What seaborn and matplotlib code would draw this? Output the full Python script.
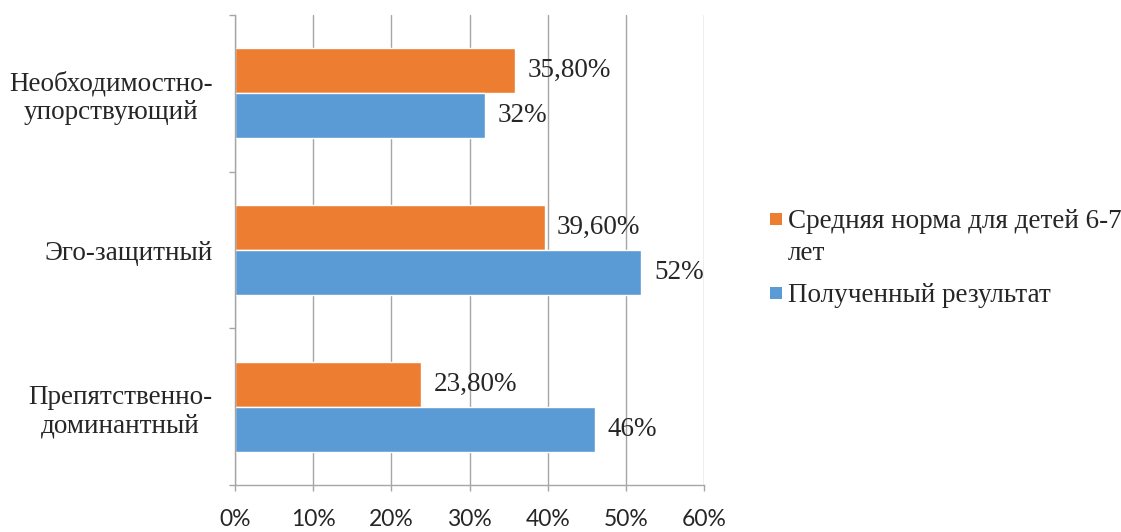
import matplotlib
matplotlib.use('Agg')
import matplotlib.pyplot as plt
import seaborn as sns
import pandas as pd
from matplotlib.patches import Rectangle
from matplotlib.ticker import FixedLocator

categories = ["Необходимостно-\nупорствующий", "Эго-защитный", "Препятственно-\nдоминантный"]
series_names = ["Средняя норма для детей 6-7 лет", "Полученный результат"]
norm_values = [35.8, 39.6, 23.8]
result_values = [32, 52, 46]
norm_labels = ["35,80%", "39,60%", "23,80%"]
result_labels = ["32%", "52%", "46%"]
x_ticks = [0, 10, 20, 30, 40, 50, 60]
x_tick_labels = ["0%", "10%", "20%", "30%", "40%", "50%", "60%"]
legend_lines = [["Средняя норма для детей 6-7", "лет"], ["Полученный результат"]]
colors = ["#ED7D31", "#5B9BD5"]

df = pd.DataFrame({
    "category": categories * 2,
    "series": [series_names[0]] * 3 + [series_names[1]] * 3,
    "value": norm_values + result_values,
})

sns.set_style("white")
SERIF = "Liberation Serif"
FS = 19.5
W, H = 1121, 532
fig = plt.figure(figsize=(W / 100, H / 100), dpi=100)
ax = fig.add_axes([235 / W, 1 - 485 / H, 469 / W, 470 / H])

sns.barplot(data=df, x="value", y="category", hue="series", hue_order=series_names,
            order=categories, palette=colors, orient="h", width=0.574, saturation=1,
            ax=ax, legend=False, errorbar=None)

ax.set_xlim(0, 60)
ax.set_ylim(2.5, -0.5)
ax.set_xlabel("")
ax.set_ylabel("")
ax.set_xticks(x_ticks)
ax.set_xticklabels(x_tick_labels, fontsize=16.5, family="Lato")
ax.set_yticks(range(len(categories)))
ax.set_yticklabels(categories, fontsize=FS, family=SERIF, multialignment="center",
                   linespacing=1.2)
ax.yaxis.set_minor_locator(FixedLocator([-0.5, 0.5, 1.5, 2.5]))

grid_c = "#A6A6A6"
ax.xaxis.grid(True, color=grid_c, lw=1)
ax.set_axisbelow(True)
for s in ["top", "right"]:
    ax.spines[s].set_visible(False)
for s in ["left", "bottom"]:
    ax.spines[s].set_visible(True)
    ax.spines[s].set_color(grid_c)
    ax.spines[s].set_linewidth(1)

ax.tick_params(axis="y", which="major", length=0, pad=16)
ax.tick_params(axis="y", which="minor", length=4.5, color=grid_c, width=1, left=True)
ax.tick_params(axis="x", which="major", length=4.5, color=grid_c, width=1, pad=12.5, bottom=True)

for cont, labs in zip(ax.containers, [norm_labels, result_labels]):
    ax.bar_label(cont, labels=labs, padding=9, fontsize=FS, family=SERIF)

# legend
sq = 12
rows_y = [228, 302]
for i, (lines, c) in enumerate(zip(legend_lines, colors)):
    base = rows_y[i]
    fig.add_artist(Rectangle((770 / W, 1 - (base - 3) / H), sq / W, sq / H,
                             transform=fig.transFigure, color=c, lw=0))
    for j, t in enumerate(lines):
        fig.text(788 / W, 1 - (base + 32 * j) / H, t, fontsize=FS, family=SERIF,
                 va="baseline", ha="left")

fig.savefig("out.png", dpi=100)
